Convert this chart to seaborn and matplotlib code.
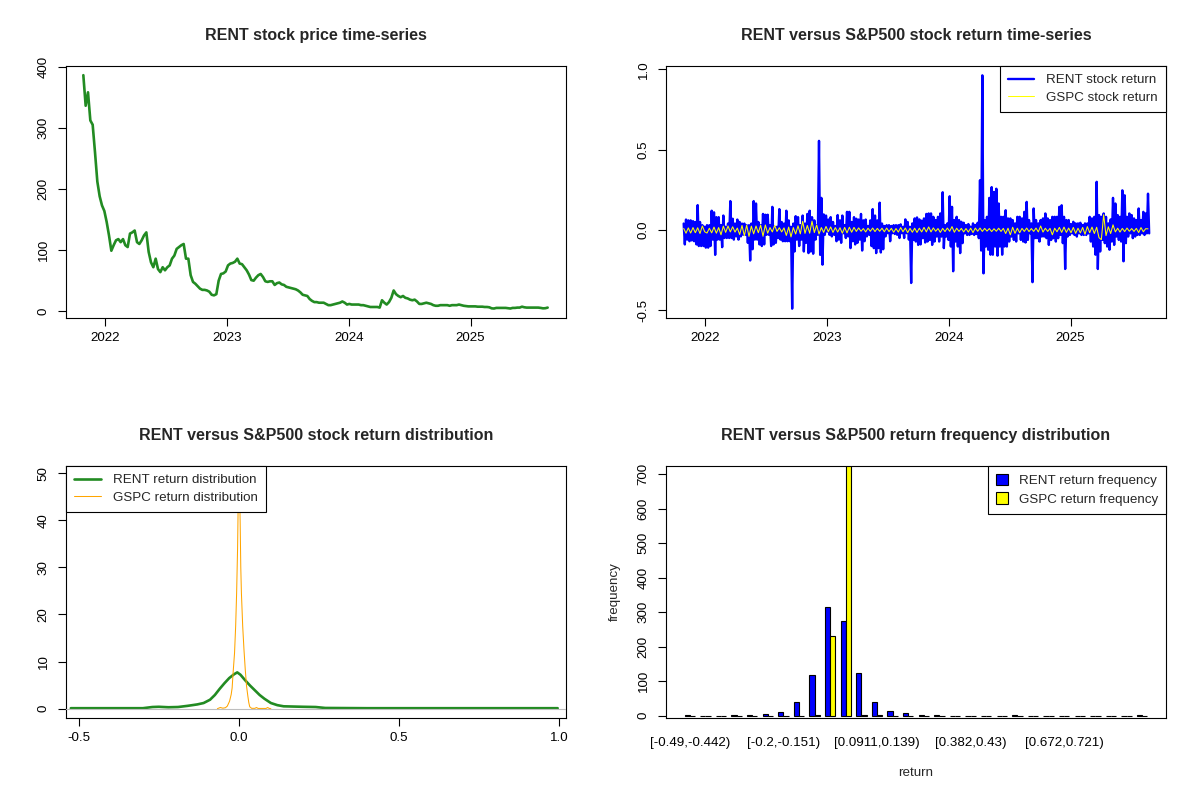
import pandas as pd
import matplotlib
matplotlib.use("Agg")
import matplotlib.pyplot as plt
import seaborn as sns

# ---- data ----

# RENT weekly price, starting at the IPO week
price_start = "2021-10-27"
rent_price = [
    386, 336, 358, 312, 305, 260, 212, 188, 173, 164,
    146, 124, 99, 108, 116, 118, 113, 118, 108, 105,
    127, 129, 132, 113, 110, 116, 124, 129, 97, 80,
    72, 86, 69, 64, 72, 67, 72, 75, 86, 91,
    102, 105, 108, 110, 86, 86, 59, 48, 45, 41,
    37, 35, 35, 34, 32, 27, 26, 28, 50, 61,
    62, 65, 75, 78, 79, 81, 86, 78, 77, 72,
    67, 60, 51, 50, 55, 59, 61, 56, 49, 48,
    49, 49, 43, 46, 47, 44, 43, 40, 39, 38,
    37, 36, 34, 31, 27, 26, 25, 20, 17, 15,
    15, 14, 14, 14, 12, 10, 10, 11, 12, 13,
    14, 16, 14, 11, 12, 11, 11, 11, 11, 10,
    10, 9, 8, 7, 7, 7, 7, 6, 18, 14,
    11, 15, 22, 34, 28, 25, 23, 25, 22, 21,
    19, 18, 19, 16, 12, 12, 13, 14, 13, 12,
    10, 9, 9, 10, 10, 10, 10, 9, 10, 10,
    10, 11, 10, 9, 8.5, 8, 8, 8, 8, 7.5,
    7.5, 7.5, 7, 7, 6.5, 4.8, 4.5, 5.5, 5.5, 5.5,
    5.5, 5.5, 5, 4.5, 5.5, 5.5, 6, 6, 7.5, 6.5,
    6, 6, 6, 6, 6, 6, 5.5, 4.8, 5, 6,
]

# RENT returns, two readings per week (up swing, down swing)
ret_start = "2021-10-28"
rent_ret = [
    0.04, -0.09, 0.065, -0.06, 0.06, -0.07, 0.06, -0.065, 0.055, -0.07,
    0.05, -0.09, 0.155, -0.10, 0.05, -0.10, 0.03, -0.10, 0.02, -0.11,
    0.03, -0.11, 0.03, -0.10, 0.12, -0.06, 0.11, -0.155, 0.08, -0.06,
    0.08, -0.06, 0.03, -0.107, 0.09, -0.05, 0.02, -0.05, 0.04, -0.05,
    0.18, -0.05, 0.07, -0.06, 0.04, -0.04, 0.065, -0.06, 0.05, -0.04,
    0.04, -0.03, 0.04, -0.03, 0.03, -0.08, 0.03, -0.19, 0.04, -0.12,
    0.18, -0.06, 0.165, -0.06, 0.05, -0.09, 0.03, -0.10, 0.10, -0.09,
    0.095, -0.03, 0.095, -0.03, 0.03, -0.10, 0.144, -0.09, 0.02, -0.08,
    0.02, -0.05, 0.13, -0.06, 0.05, -0.07, 0.04, -0.07, 0.12, -0.07,
    0.06, -0.07, 0.02, -0.49, 0.04, -0.134, 0.086, -0.06, 0.08, -0.10,
    0.03, -0.06, 0.09, -0.134, 0.04, -0.08, 0.10, -0.144, 0.12, -0.134,
    0.08, -0.148, 0.06, -0.06, 0.03, -0.03, 0.555, -0.155, 0.20, -0.216,
    0.097, -0.03, 0.09, -0.01, 0.065, -0.03, 0.08, -0.04, 0.05, -0.03,
    0.025, -0.07, 0.093, -0.06, 0.06, -0.08, 0.09, -0.02, 0.03, -0.05,
    0.113, -0.04, 0.113, -0.113, 0.05, -0.07, 0.08, -0.09, 0.07, -0.08,
    0.065, -0.06, 0.10, -0.128, 0.06, -0.07, 0.065, -0.04, 0.025, -0.03,
    0.06, -0.10, 0.13, -0.113, 0.09, -0.144, 0.06, -0.113, 0.17, -0.14,
    0.04, -0.12, 0.025, -0.04, 0.03, -0.02, 0.03, -0.07, 0.025, -0.02,
    0.03, -0.025, 0.03, -0.03, 0.03, -0.05, 0.035, -0.02, 0.02, -0.05,
    0.066, -0.02, 0.05, -0.06, 0.02, -0.33, 0.041, -0.062, 0.072, -0.072,
    0.078, -0.093, 0.066, -0.09, 0.058, -0.051, 0.072, -0.078, 0.10, -0.072,
    0.103, -0.062, 0.103, -0.093, 0.082, -0.072, 0.062, -0.041, 0.082, -0.072,
    0.103, -0.041, 0.235, -0.113, 0.031, -0.041, 0.041, -0.062, 0.21, -0.103,
    0.144, -0.257, 0.062, -0.072, 0.082, -0.103, 0.062, -0.144, 0.051, -0.082,
    0.045, -0.021, 0.031, -0.031, 0.037, -0.031, 0.021, -0.025, 0.041, -0.031,
    0.031, -0.025, 0.045, -0.051, 0.31, -0.128, 0.963, -0.27, 0.062, -0.103,
    0.082, -0.123, 0.20, -0.154, 0.267, -0.154, 0.237, -0.103, 0.257, -0.16,
    0.165, -0.103, 0.082, -0.154, 0.082, -0.103, 0.123, -0.103, 0.072, -0.072,
    0.072, -0.041, 0.062, -0.062, 0.041, -0.072, 0.082, -0.021, 0.082, -0.062,
    0.072, -0.072, 0.113, -0.078, 0.175, -0.062, 0.062, -0.021, 0.041, -0.325,
    0.134, -0.051, 0.062, -0.051, 0.041, -0.072, 0.062, -0.041, 0.072, -0.041,
    0.103, -0.051, 0.072, -0.093, 0.062, -0.062, 0.082, -0.051, 0.082, -0.072,
    0.082, -0.051, 0.144, -0.031, 0.154, -0.082, 0.082, -0.243, 0.062, -0.041,
    0.062, -0.031, 0.037, -0.021, 0.051, -0.031, 0.041, -0.041, 0.041, -0.021,
    0.045, -0.031, 0.031, -0.031, 0.041, -0.031, 0.041, -0.021, 0.082, -0.072,
    0.072, -0.103, 0.082, -0.154, 0.30, -0.243, 0.093, -0.134, 0.082, -0.062,
    0.103, -0.082, 0.082, -0.103, 0.041, -0.123, 0.066, -0.072, 0.20, -0.093,
    0.165, -0.041, 0.093, -0.062, 0.082, -0.072, 0.247, -0.195, 0.216, -0.082,
    0.082, -0.041, 0.103, -0.021, 0.093, -0.051, 0.072, -0.041, 0.062, -0.031,
    0.134, -0.031, 0.062, -0.021, 0.113, -0.031, 0.103, -0.021, 0.226, -0.021,
]

# S&P500 weekly returns
gspc_ret = [
    0.01, -0.02, 0.013, -0.019, 0.015, -0.017, 0.014, -0.022, 0.025, -0.011,
    -0.019, 0.011, -0.018, 0.018, -0.02, 0.015, -0.03, 0.024, -0.015, 0.025,
    -0.012, 0.02, -0.013, 0.012, -0.028, 0.028, -0.036, 0.03, -0.04, 0.024,
    -0.024, 0.025, -0.017, 0.03, -0.039, 0.031, -0.02, 0.015, -0.012, 0.028,
    -0.009, 0.014, -0.012, 0.013, -0.034, 0.018, -0.043, 0.015, -0.025, 0.026,
    -0.024, 0.054, -0.021, 0.028, -0.02, 0.055, -0.016, 0.031, -0.025, 0.015,
    -0.015, 0.022, -0.011, 0.019, -0.015, 0.015, -0.013, 0.014, -0.02, 0.016,
    -0.018, 0.017, -0.014, 0.016, -0.009, 0.013, -0.008, 0.009, -0.012, 0.011,
    -0.008, 0.012, -0.01, 0.01, -0.008, 0.011, -0.011, 0.012, -0.01, 0.01,
    -0.014, 0.009, -0.013, 0.015, -0.011, 0.012, -0.016, 0.01, -0.014, 0.011,
    -0.015, 0.011, -0.012, 0.016, -0.012, 0.019, -0.012, 0.013, -0.008, 0.009,
    -0.015, 0.01, -0.01, 0.012, -0.008, 0.021, -0.014, 0.011, -0.009, 0.01,
    -0.012, 0.009, -0.013, 0.011, -0.016, 0.012, -0.008, 0.012, -0.009, 0.01,
    -0.007, 0.009, -0.01, 0.008, -0.008, 0.011, -0.009, 0.01, -0.022, 0.011,
    -0.03, 0.017, -0.021, 0.011, -0.017, 0.01, -0.009, 0.012, -0.01, 0.009,
    -0.009, 0.012, -0.012, 0.025, -0.013, 0.011, -0.009, 0.01, -0.03, 0.011,
    -0.011, 0.016, -0.015, 0.018, -0.015, 0.012, -0.017, 0.016, -0.021, 0.011,
    -0.018, 0.016, -0.027, 0.021, -0.017, 0.018, -0.022, 0.017, -0.048, -0.06,
    0.095, -0.035, 0.02, -0.022, 0.032, -0.012, 0.011, -0.013, 0.01, -0.01,
    0.012, -0.008, 0.009, -0.009, 0.01, -0.016, 0.015, -0.011, 0.008, 0.007,
]

# kernel density curves of the two return series
rent_dens_x = [-0.525, -0.30, -0.27, -0.25, -0.22, -0.19, -0.16, -0.13, -0.11,
               -0.09, -0.075, -0.06, -0.045, -0.03, -0.015, -0.005, 0.005, 0.02,
               0.035, 0.05, 0.065, 0.08, 0.10, 0.12, 0.14, 0.17, 0.20, 0.24,
               0.27, 0.40, 0.60, 0.80, 0.996]
rent_dens_y = [0.1, 0.1, 0.35, 0.4, 0.3, 0.35, 0.6, 0.9, 1.2,
               1.9, 2.9, 4.2, 5.4, 6.5, 7.3, 7.7, 7.2, 6.0,
               4.9, 3.9, 2.9, 2.1, 1.2, 0.75, 0.5, 0.45, 0.4, 0.35,
               0.15, 0.1, 0.1, 0.1, 0.1]
gspc_dens_x = [-0.067, -0.058, -0.05, -0.042, -0.036, -0.029, -0.024, -0.021,
               -0.018, -0.0135, -0.01, -0.007, -0.004, -0.002, 0.001, 0.004,
               0.006, 0.008, 0.012, 0.016, 0.02, 0.024, 0.028, 0.031, 0.034,
               0.04, 0.05, 0.055, 0.06, 0.085, 0.09, 0.095, 0.10]
gspc_dens_y = [0.0, 0.25, 0.1, 0.2, 0.55, 1.6, 3.0, 4.4,
               7.6, 11.8, 17.5, 24.5, 34, 44, 49.5, 40,
               30, 24.5, 17.5, 12.5, 8.3, 4.8, 2.7, 1.3, 0.4,
               0.07, 0.07, 0.25, 0.05, 0.05, 0.25, 0.05, 0.0]

# return frequency per bin (30 bins from -0.49 to 0.963)
rent_freq = [2, 0, 0, 2, 2, 6, 12, 40, 118, 315, 275, 123, 40, 15, 9,
             3, 3, 0, 0, 0, 0, 2, 0, 0, 0, 0, 0, 0, 0, 1]
gspc_freq = [0, 0, 0, 0, 0, 0, 0, 0, 2, 232, 733, 3, 1, 0, 0,
             0, 0, 0, 0, 0, 0, 0, 0, 0, 0, 0, 0, 0, 0, 0]
hist_tick_bins = [0, 6, 12, 18, 24]
hist_tick_labels = ["[-0.49,-0.442)", "[-0.2,-0.151)", "[0.0911,0.139)",
                    "[0.382,0.43)", "[0.672,0.721)"]

year_ticks = ["2022-01-01", "2023-01-01", "2024-01-01", "2025-01-01"]
year_labels = ["2022", "2023", "2024", "2025"]

# ---- tables ----
price_df = pd.DataFrame({"date": pd.date_range(price_start, periods=len(rent_price), freq="7D"),
                         "price": rent_price})
rent_ret_df = pd.DataFrame({"date": pd.date_range(ret_start, periods=len(rent_ret), freq="84h"),
                            "ret": rent_ret})
gspc_ret_df = pd.DataFrame({"date": pd.date_range(ret_start, periods=len(gspc_ret), freq="7D"),
                            "ret": gspc_ret})
hist_df = pd.DataFrame({
    "bin": list(range(len(rent_freq))) * 2,
    "count": rent_freq + gspc_freq,
    "series": ["RENT return frequency"] * len(rent_freq) + ["GSPC return frequency"] * len(gspc_freq),
})

# ---- style ----
sns.set_style("ticks")
plt.rcParams["font.family"] = ["Liberation Sans", "DejaVu Sans"]
FS = 9.6
TITLE_FS = 11.5


def r_style(ax, title):
    for s in ax.spines.values():
        s.set_visible(True)
        s.set_linewidth(0.8)
        s.set_color("black")
    ax.tick_params(direction="out", length=5.8, width=0.8, colors="black", labelsize=FS)
    ax.tick_params(axis="x", pad=4)
    ax.tick_params(axis="y", pad=6)
    ax.set_xlabel("")
    ax.set_ylabel("")
    ax.set_title(title, fontsize=TITLE_FS, fontweight="bold", pad=19)


def y_ticks(ax, ticks, labels):
    ax.set_yticks(ticks)
    ax.set_yticklabels(labels, rotation=90, va="center")


def r_legend(ax, loc, **kw):
    leg = ax.legend(loc=loc, fontsize=FS, frameon=True, fancybox=False, framealpha=1,
                    edgecolor="black", borderaxespad=0, borderpad=0.6,
                    labelspacing=0.4, **kw)
    leg.get_frame().set_linewidth(0.8)
    leg.set_zorder(10)
    return leg


fig = plt.figure(figsize=(12, 8), dpi=100)
ax1 = fig.add_axes([0.055, 0.6025, 0.41667, 0.315])
ax2 = fig.add_axes([0.555, 0.6025, 0.41667, 0.315])
ax3 = fig.add_axes([0.055, 0.1025, 0.41667, 0.315])
ax4 = fig.add_axes([0.555, 0.1025, 0.41667, 0.315])

x_lo, x_hi = pd.Timestamp("2021-09-05"), pd.Timestamp("2025-10-14")

# a) price
sns.lineplot(data=price_df, x="date", y="price", color="forestgreen", lw=1.9, ax=ax1)
r_style(ax1, "RENT stock price time-series")
ax1.set_xlim(x_lo, x_hi)
ax1.set_ylim(-11, 401)
ax1.set_xticks(pd.to_datetime(year_ticks), year_labels)
y_ticks(ax1, [0, 100, 200, 300, 400], ["0", "100", "200", "300", "400"])

# b) returns
sns.lineplot(data=rent_ret_df, x="date", y="ret", color="blue", lw=1.7,
             label="RENT stock return", ax=ax2)
sns.lineplot(data=gspc_ret_df, x="date", y="ret", color="yellow", lw=0.75,
             label="GSPC stock return", ax=ax2)
r_style(ax2, "RENT versus S&P500 stock return time-series")
ax2.set_xlim(x_lo, x_hi)
ax2.set_ylim(-0.548, 1.021)
ax2.set_xticks(pd.to_datetime(year_ticks), year_labels)
y_ticks(ax2, [-0.5, 0.0, 0.5, 1.0], ["-0.5", "0.0", "0.5", "1.0"])
r_legend(ax2, "upper right", handlelength=2.0, handletextpad=0.9)

# c) densities
sns.lineplot(x=rent_dens_x, y=rent_dens_y, color="forestgreen", lw=1.9,
             label="RENT return distribution", ax=ax3)
sns.lineplot(x=gspc_dens_x, y=gspc_dens_y, color="orange", lw=0.75,
             label="GSPC return distribution", ax=ax3)
ax3.axhline(0, color="#BEBEBE", lw=0.8, zorder=3)
r_style(ax3, "RENT versus S&P500 stock return distribution")
ax3.set_xlim(-0.54, 1.022)
ax3.set_ylim(-1.98, 51.5)
ax3.set_xticks([-0.5, 0.0, 0.5, 1.0], ["-0.5", "0.0", "0.5", "1.0"])
y_ticks(ax3, [0, 10, 20, 30, 40, 50], ["0", "10", "20", "30", "40", "50"])
r_legend(ax3, "upper left", handlelength=2.0, handletextpad=0.9)

# d) frequency bars
sns.barplot(data=hist_df, x="bin", y="count", hue="series", palette=["blue", "yellow"],
            saturation=1, width=2 / 3, edgecolor="black", linewidth=0.8,
            errorbar=None, ax=ax4)
r_style(ax4, "RENT versus S&P500 return frequency distribution")
ax4.set_xlim(-1.52, 30.52)
ax4.set_ylim(-6.7, 724)
ax4.set_xticks(hist_tick_bins, hist_tick_labels)
ax4.tick_params(axis="x", length=0, pad=14)
y_ticks(ax4, [0, 100, 200, 300, 400, 500, 600, 700],
        ["0", "100", "200", "300", "400", "500", "600", "700"])
ax4.set_xlabel("return", fontsize=FS, labelpad=13)
ax4.set_ylabel("frequency", fontsize=FS, labelpad=12)
r_legend(ax4, "upper right", handlelength=0.9, handleheight=0.9, handletextpad=0.8)

fig.savefig("out.png", dpi=100, facecolor="white")
